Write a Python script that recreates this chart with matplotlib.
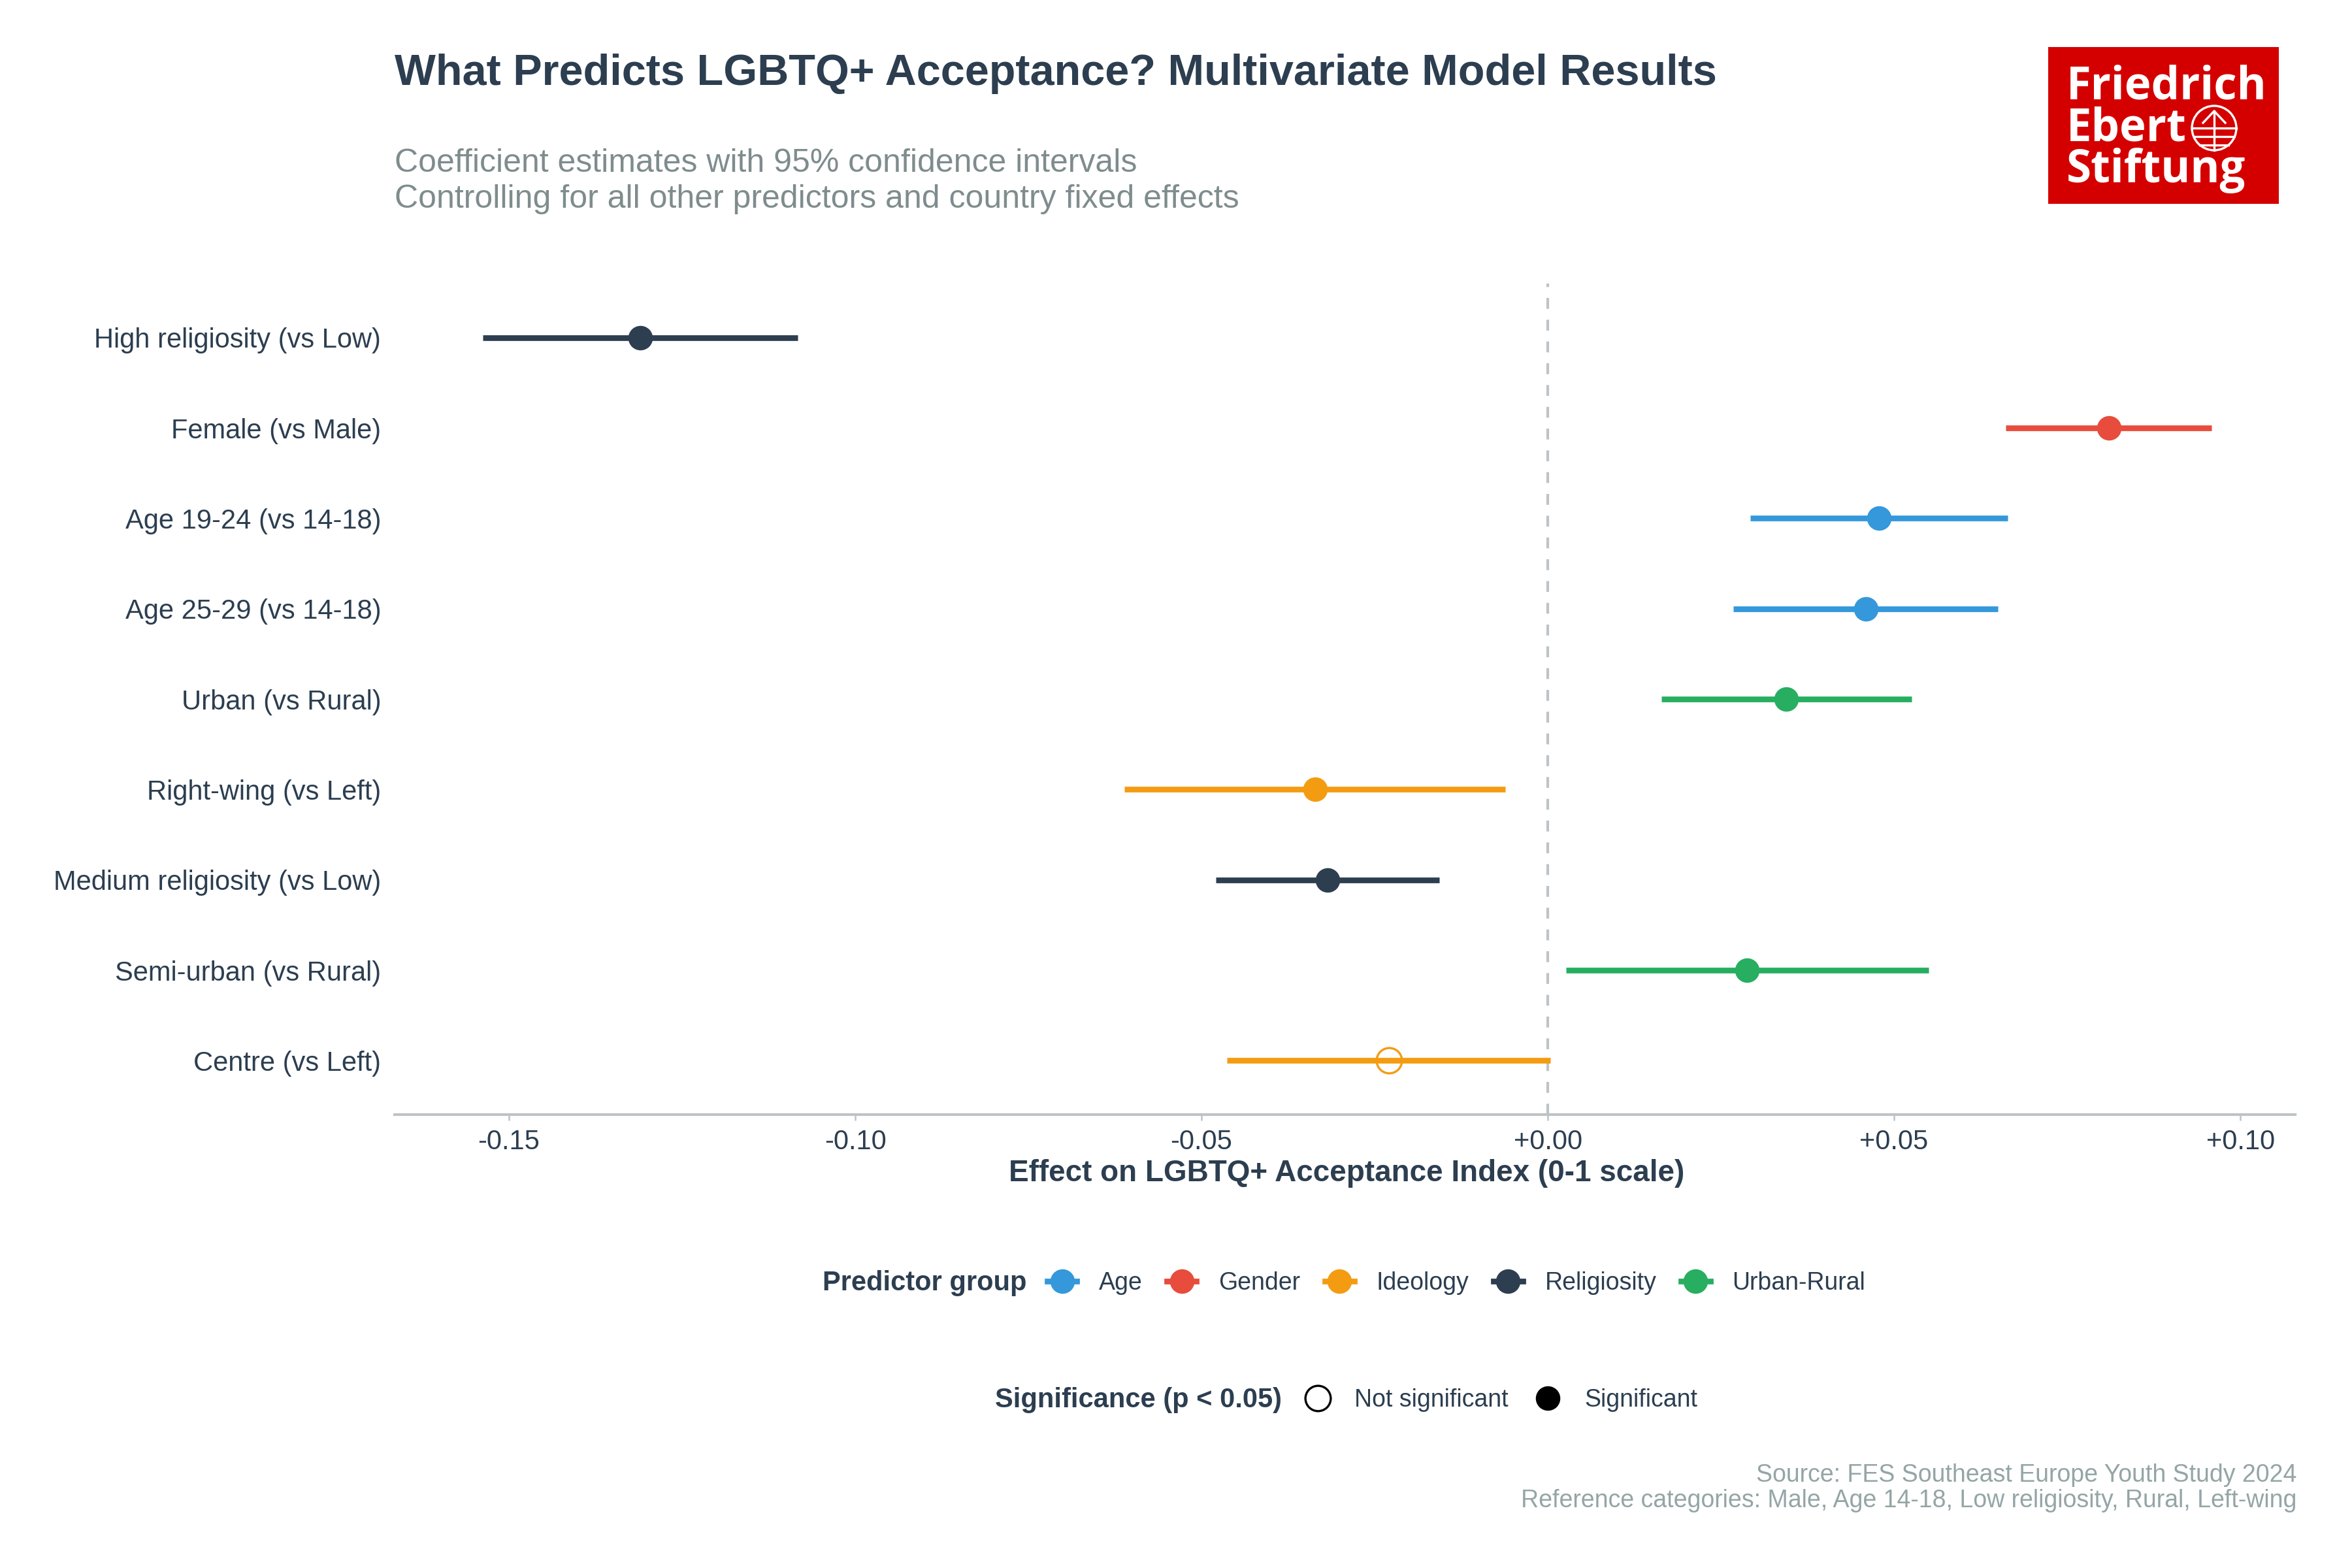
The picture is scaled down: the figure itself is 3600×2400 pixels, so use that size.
import numpy as np
import matplotlib.pyplot as plt
from matplotlib.lines import Line2D
from matplotlib.patches import Rectangle, Circle

plt.rcParams['font.family'] = ['Liberation Sans', 'DejaVu Sans']

# --- data ---
predictors = ['High religiosity (vs Low)', 'Female (vs Male)', 'Age 19-24 (vs 14-18)',
              'Age 25-29 (vs 14-18)', 'Urban (vs Rural)', 'Right-wing (vs Left)',
              'Medium religiosity (vs Low)', 'Semi-urban (vs Rural)', 'Centre (vs Left)']
estimates = [-0.1310, 0.0810, 0.0478, 0.0459, 0.0344, -0.0336, -0.0318, 0.0288, -0.0229]
ci_low = [-0.1538, 0.0661, 0.0292, 0.0268, 0.0164, -0.0611, -0.0479, 0.0026, -0.0463]
ci_high = [-0.1083, 0.0958, 0.0664, 0.0650, 0.0525, -0.0061, -0.0157, 0.0550, 0.0004]
groups = ['Religiosity', 'Gender', 'Age', 'Age', 'Urban-Rural', 'Ideology',
          'Religiosity', 'Urban-Rural', 'Ideology']
significant = [True, True, True, True, True, True, True, True, False]

group_names = ['Age', 'Gender', 'Ideology', 'Religiosity', 'Urban-Rural']
group_colors = {'Age': '#3498DB', 'Gender': '#E74C3C', 'Ideology': '#F39C12',
                'Religiosity': '#2C3E50', 'Urban-Rural': '#27AE60'}
x_ticks = [-0.15, -0.10, -0.05, 0.0, 0.05, 0.10]

dark = '#2C3E50'
grey_line = '#BDC3C7'

fig = plt.figure(figsize=(12, 8), dpi=300)
ax = fig.add_axes([0.1678, 0.2890, 0.8080, 0.5303])

# reference line at zero
ax.axvline(0, color=grey_line, lw=1, ls=(0, (4, 4)), zorder=1)

ypos = np.arange(len(predictors))
for i in range(len(predictors)):
    c = group_colors[groups[i]]
    ax.hlines(ypos[i], ci_low[i], ci_high[i], color=c, lw=2.1, zorder=2)
    if significant[i]:
        ax.plot(estimates[i], ypos[i], 'o', ms=9, mfc=c, mew=0, zorder=3)
    else:
        ax.plot(estimates[i], ypos[i], 'o', ms=9.3, mfc='none', mec=c, mew=0.8, zorder=3)

ax.set_ylim(len(predictors) - 1 + 0.6, -0.6)
ax.set_xlim(-0.1665, 0.1079)
ax.set_yticks(ypos, predictors)
ax.set_xticks(x_ticks, [f'{v:+.2f}' for v in x_ticks])
ax.tick_params(axis='y', length=0, pad=5, labelsize=10, labelcolor=dark)
ax.tick_params(axis='x', length=2.2, width=0.6, color=grey_line, pad=3,
               labelsize=10, labelcolor=dark)
for s in ['top', 'right', 'left']:
    ax.spines[s].set_visible(False)
ax.spines['bottom'].set_color(grey_line)
ax.spines['bottom'].set_linewidth(1)

fig.text(0.5724, 0.2467, 'Effect on LGBTQ+ Acceptance Index (0-1 scale)', ha='center',
         va='baseline', fontsize=11, fontweight='bold', color=dark)

# titles
fig.text(0.1678, 0.9458, 'What Predicts LGBTQ+ Acceptance? Multivariate Model Results',
         fontsize=16, fontweight='bold', color=dark, va='baseline')
fig.text(0.1678, 0.8904, 'Coefficient estimates with 95% confidence intervals',
         fontsize=12, color='#7F8C8D', va='baseline')
fig.text(0.1678, 0.8675, 'Controlling for all other predictors and country fixed effects',
         fontsize=12, color='#7F8C8D', va='baseline')

# caption
fig.text(0.9764, 0.0550, 'Source: FES Southeast Europe Youth Study 2024', ha='right',
         va='baseline', fontsize=9, color='#95A5A6')
fig.text(0.9764, 0.0387, 'Reference categories: Male, Age 14-18, Low religiosity, Rural, Left-wing',
         ha='right', va='baseline', fontsize=9, color='#95A5A6')


def inline_legend(title, handles, labels, y, cx):
    leg = fig.legend(handles, labels, loc='center left', bbox_to_anchor=(0, y),
                     ncol=len(handles), frameon=False, fontsize=9, handlelength=1.2,
                     handletextpad=0.9, columnspacing=1.0, labelcolor=dark,
                     borderpad=0, borderaxespad=0)
    t = fig.text(0, y, title, fontsize=10, fontweight='bold', color=dark,
                 va='center', ha='left')
    fig.canvas.draw()
    r = fig.canvas.get_renderer()
    lw = leg.get_window_extent(r).width / fig.bbox.width
    tw = t.get_window_extent(r).width / fig.bbox.width
    gap = 0.009
    x0 = cx - (tw + gap + lw) / 2
    t.set_x(x0)
    leg.set_bbox_to_anchor((x0 + tw + gap, y), transform=fig.transFigure)


grp_handles = [Line2D([0], [0], color=group_colors[g], lw=2.1, marker='o', ms=9, mew=0)
               for g in group_names]
inline_legend('Predictor group', grp_handles, group_names, 0.1818, 0.5714)

sig_handles = [Line2D([0], [0], ls='none', marker='o', ms=9.3, mfc='none', mec='black', mew=0.8),
               Line2D([0], [0], ls='none', marker='o', ms=9, mfc='black', mew=0)]
inline_legend('Significance (p < 0.05)', sig_handles, ['Not significant', 'Significant'],
              0.1072, 0.5724)

# FES logo
lax = fig.add_axes([3135 / 3600, 1 - 312 / 2400, 353 / 3600, 240 / 2400])
lax.set_xlim(0, 353)
lax.set_ylim(240, 0)
lax.axis('off')
lax.add_patch(Rectangle((0, 0), 353, 240, color='#D40000'))
lax.text(28, 207, 'Friedrich\nEbert\nStiftung', color='white', fontsize=16.5,
         fontweight='bold', family=['Open Sans', 'DejaVu Sans'], va='baseline',
         ha='left', linespacing=0.88)
cx, cy, rad = 254, 124, 34
lax.add_patch(Circle((cx, cy), rad, fill=False, ec='white', lw=0.8))
for d in [0, 13, 26]:
    hw = np.sqrt(rad ** 2 - d ** 2)
    lax.plot([cx - hw, cx + hw], [cy + d, cy + d], color='white', lw=0.8)
lax.plot([cx, cx], [cy - 26, cy + rad], color='white', lw=0.8)
lax.plot([cx - 17, cx, cx + 17], [cy - 8, cy - 26, cy - 8], color='white', lw=0.8)

fig.savefig('out.png', dpi=300)
